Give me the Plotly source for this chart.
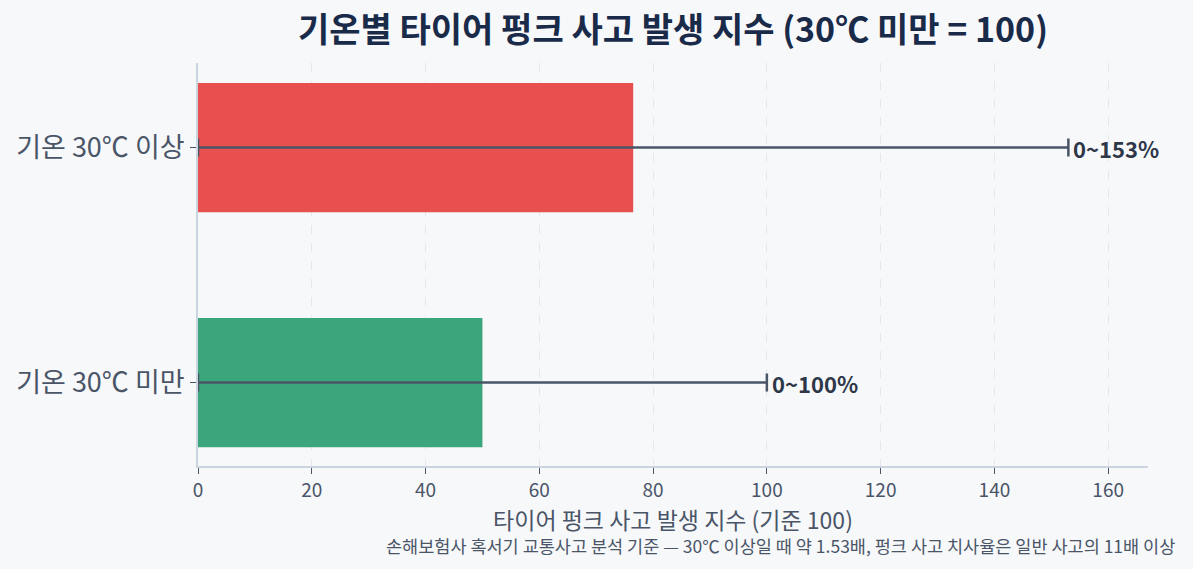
import plotly.graph_objects as go

categories = ["기온 30℃ 미만", "기온 30℃ 이상"]
index_values = [50, 76.5]
error_values = [50, 76.5]
range_labels = ["0~100%", "0~153%"]
upper_values = [100, 153]
bar_colors = ["#3BA57B", "#E84F4F"]

font_family = "Noto Sans CJK KR, Noto Sans, sans-serif"

fig = go.Figure()
fig.add_trace(go.Bar(
    y=categories,
    x=index_values,
    orientation="h",
    marker=dict(color=bar_colors, line=dict(width=0)),
    width=0.55,
    error_x=dict(type="data", array=error_values, visible=True,
                 color="#4A5568", thickness=2.5, width=9),
    hoverinfo="x+y",
    showlegend=False,
))

for cat, up, lab in zip(categories, upper_values, range_labels):
    fig.add_annotation(x=up, y=cat, text="<b>" + lab + "</b>", showarrow=False,
                       xanchor="left", yanchor="middle", xshift=3,
                       font=dict(size=22, color="#2D3748", family=font_family))

fig.add_annotation(
    text="손해보험사 혹서기 교통사고 분석 기준 — 30℃ 이상일 때 약 1.53배, 펑크 사고 치사율은 일반 사고의 11배 이상",
    xref="paper", yref="paper", x=1.03, y=-0.198, xanchor="right", yanchor="middle",
    showarrow=False, font=dict(size=17.5, color="#4A5568", family=font_family))

fig.update_layout(
    width=1193, height=569,
    paper_bgcolor="#F7F8FA", plot_bgcolor="#F7F8FA",
    margin=dict(l=198, r=45, t=63, b=103),
    title=dict(text="<b>기온별 타이어 펑크 사고 발생 지수 (30℃ 미만 = 100)</b>",
               x=(198 + 1148) / 2 / 1193, xanchor="center", y=0.947, yanchor="middle",
               font=dict(size=34, color="#1A2B4A", family=font_family)),
    font=dict(family=font_family, color="#4A5568"),
    bargap=0.45,
)
fig.update_xaxes(
    range=[0, 167], dtick=20, showgrid=True, gridcolor="#E4E7EC", griddash="dash",
    gridwidth=1, showline=True, linecolor="#CBD5E0", linewidth=2,
    ticks="outside", ticklen=6, tickcolor="#4A5568", zeroline=False,
    tickfont=dict(size=19, color="#4A5568"),
    title=dict(text="타이어 펑크 사고 발생 지수 (기준 100)", font=dict(size=23, color="#4A5568"),
               standoff=1),
)
fig.update_yaxes(
    range=[-0.355, 1.36], showline=True, linecolor="#CBD5E0", linewidth=2,
    ticks="outside", ticklen=6, tickcolor="#4A5568", showgrid=False,
    tickfont=dict(size=27, color="#4A5568"),
)

fig.write_html("out.html")
